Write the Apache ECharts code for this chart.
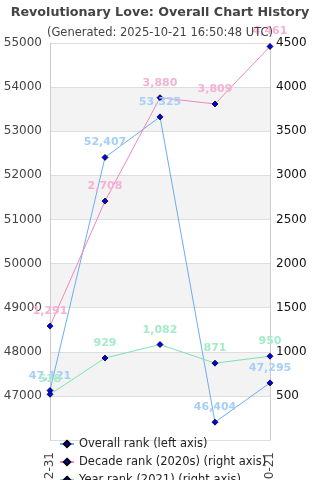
<!DOCTYPE html>
<html>
<head>
<meta charset="utf-8">
<script src="https://cdn.jsdelivr.net/npm/echarts@6/dist/echarts.min.js"></script>
<style>
  html, body { margin: 0; padding: 0; background: #fff; }
  #chart { width: 320px; height: 480px; }
</style>
</head>
<body>
<div id="chart"></div>
<script>
const dates = ['2021-12-31', '2022-12-31', '2023-12-31', '2024-12-31', '2025-10-21'];
const overallRank = [47121, 52407, 53325, 46404, 47295];
const decadeRank = [1291, 2708, 3880, 3809, 4461];
const yearRank = [518, 929, 1082, 871, 950];
const seriesNames = ['Overall rank (left axis)', 'Decade rank (2020s) (right axis)', 'Year rank (2021) (right axis)'];

const FONT = 'DejaVu Sans';
const chart = echarts.init(document.getElementById('chart'));

function lineSeries(name, data, axis, lineColor, labelColor) {
  return {
    name,
    type: 'line',
    yAxisIndex: axis,
    data,
    symbol: 'diamond',
    symbolSize: 6,
    itemStyle: { color: '#0000ee', borderColor: '#000', borderWidth: 0.8 },
    lineStyle: { color: lineColor, width: 1 },
    label: {
      show: true,
      position: 'top',
      distance: 6,
      color: labelColor,
      fontFamily: FONT,
      fontSize: 11,
      fontWeight: 'bold',
      formatter: (p) => p.value.toLocaleString('en-US'),
    },
  };
}

// one legend per row so the column never wraps
const legends = seriesNames.map((name, i) => ({
  orient: 'vertical',
  left: 54, top: 433 + i * 18,
  itemWidth: 14, itemHeight: 8, itemGap: 0,
  textStyle: { fontFamily: FONT, fontSize: 11.5, color: '#222' },
  data: [name],
}));

chart.setOption({
  animation: false,
  title: [
    {
      text: 'Revolutionary Love: Overall Chart History',
      left: 'center', top: 1,
      textStyle: { fontFamily: FONT, fontSize: 12.7, fontWeight: 'bold', color: '#444' },
    },
    {
      text: '(Generated: 2025-10-21 16:50:48 UTC)',
      left: 'center', top: 22,
      textStyle: { fontFamily: FONT, fontSize: 11.5, fontWeight: 'normal', color: '#444' },
    },
  ],
  grid: { left: 50, right: 50, top: 43, bottom: 40, containLabel: false, outerBoundsMode: 'none' },
  legend: legends,
  xAxis: {
    type: 'category',
    data: dates,
    boundaryGap: false,
    axisLine: { show: false },
    axisTick: { show: false },
    axisLabel: {
      rotate: 90,
      margin: 12,
      fontFamily: FONT, fontSize: 12, color: '#444',
      interval: (i) => i === 0 || i === dates.length - 1,
    },
  },
  yAxis: [
    {
      type: 'value',
      min: 46000, max: 55000, interval: 1000,
      axisLine: { show: true, lineStyle: { color: '#ccc' } },
      axisTick: { show: false },
      axisLabel: { showMinLabel: false, fontFamily: FONT, fontSize: 12, color: '#444', margin: 8, formatter: (v) => String(v) },
      splitLine: { lineStyle: { color: '#ddd' } },
      splitArea: { show: true, areaStyle: { color: ['#fff', '#f3f3f3'] } },
    },
    {
      type: 'value',
      min: 0, max: 4500, interval: 500,
      axisLine: { show: true, lineStyle: { color: '#ccc' } },
      axisTick: { show: false },
      axisLabel: { showMinLabel: false, fontFamily: FONT, fontSize: 12, color: '#111', margin: 6, formatter: (v) => String(v) },
      splitLine: { show: false },
    },
  ],
  series: [
    lineSeries(seriesNames[0], overallRank, 0, '#6aaef2', '#a6cff7'),
    lineSeries(seriesNames[1], decadeRank, 1, '#f087be', '#f6b0d2'),
    lineSeries(seriesNames[2], yearRank, 1, '#7ee2b0', '#a6ebc9'),
  ],
});
</script>
</body>
</html>
